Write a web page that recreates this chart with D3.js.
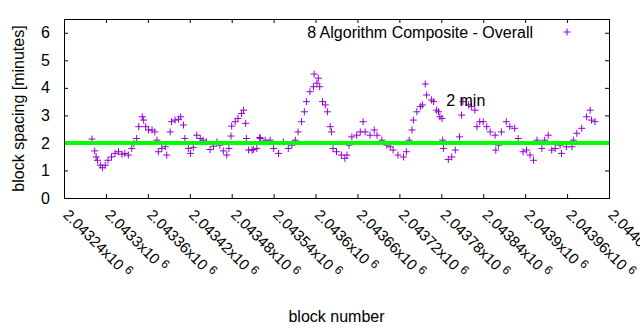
<!DOCTYPE html>
<html>
<head>
<meta charset="utf-8">
<script src="https://cdn.jsdelivr.net/npm/d3@7"></script>
<style>
body { margin: 0; background: #fff; }
text { font-family: "Liberation Sans", Arial, sans-serif; fill: #000; }
</style>
</head>
<body>
<div id="chart"></div>
<script>
// Data
var blocks = [2043280, 2043284, 2043286, 2043288, 2043292, 2043295, 2043299, 2043303, 2043308, 2043313,
  2043318, 2043323, 2043327, 2043332, 2043337, 2043340, 2043344, 2043347, 2043352, 2043354,
  2043357, 2043361, 2043366, 2043370, 2043373, 2043375, 2043380, 2043385, 2043387, 2043392,
  2043394, 2043399, 2043404, 2043407, 2043411, 2043413, 2043418, 2043421, 2043425, 2043430,
  2043435, 2043439, 2043444, 2043449, 2043454, 2043459, 2043463, 2043468, 2043473, 2043476,
  2043479, 2043480, 2043485, 2043489, 2043494, 2043497, 2043500, 2043501, 2043504, 2043509,
  2043511, 2043516, 2043520, 2043521, 2043528, 2043535, 2043540, 2043547, 2043554, 2043561,
  2043566, 2043571, 2043575, 2043580, 2043584, 2043587, 2043592, 2043597, 2043598, 2043602,
  2043604, 2043606, 2043610, 2043614, 2043617, 2043621, 2043623, 2043625, 2043630, 2043637,
  2043642, 2043645, 2043648, 2043652, 2043659, 2043664, 2043668, 2043671, 2043678, 2043684,
  2043688, 2043695, 2043702, 2043707, 2043711, 2043718, 2043726, 2043730, 2043734, 2043738,
  2043740, 2043745, 2043750, 2043753, 2043757, 2043759, 2043766, 2043769, 2043773, 2043776,
  2043778, 2043781, 2043782, 2043783, 2043790, 2043795, 2043800, 2043806, 2043809, 2043811,
  2043819, 2043823, 2043828, 2043831, 2043835, 2043840, 2043845, 2043850, 2043857, 2043858,
  2043862, 2043866, 2043873, 2043878, 2043885, 2043890, 2043897, 2043902, 2043907, 2043912,
  2043917, 2043924, 2043928, 2043933, 2043938, 2043943, 2043950, 2043952, 2043959, 2043967,
  2043969, 2043974, 2043981, 2043988, 2043993, 2043995, 2044000];
var spacing = [2.14, 1.71, 1.49, 1.37, 1.19, 1.10, 1.19, 1.37, 1.49, 1.62,
  1.68, 1.59, 1.62, 1.56, 1.80, 1.98, 2.16, 2.59, 2.95, 2.83,
  2.59, 2.47, 2.47, 2.40, 2.10, 1.68, 1.80, 1.86, 1.56, 2.40,
  2.77, 2.83, 2.86, 2.95, 2.65, 2.16, 1.80, 1.62, 1.84, 2.28,
  2.16, 2.10, 2.04, 1.76, 1.88, 2.04, 1.92, 1.71, 1.56, 1.80,
  2.25, 2.61, 2.77, 2.89, 3.07, 3.19, 2.71, 2.16, 1.74, 1.74,
  1.76, 1.80, 2.20, 2.16, 2.10, 2.10, 1.80, 1.62, 2.04, 1.80,
  1.92, 2.10, 2.40, 2.77, 3.13, 3.50, 3.86, 4.04, 4.50, 4.17,
  4.35, 4.04, 3.50, 3.38, 3.13, 2.59, 2.40, 1.80, 1.68, 1.56,
  1.44, 1.56, 1.92, 2.22, 2.28, 2.40, 2.77, 2.40, 2.28, 2.47,
  2.28, 2.10, 1.92, 1.86, 1.74, 1.56, 1.49, 1.68, 2.10, 2.47,
  2.83, 3.13, 3.32, 3.38, 4.14, 3.74, 3.56, 3.50, 3.19, 3.13,
  2.95, 2.89, 2.10, 1.80, 1.40, 1.49, 1.74, 2.22, 3.01, 3.50,
  3.38, 3.32, 3.19, 2.59, 2.77, 2.77, 2.59, 2.40, 2.28, 1.74,
  1.92, 2.40, 2.77, 2.59, 2.53, 2.16, 1.68, 1.74, 1.56, 1.37,
  2.10, 1.80, 2.10, 2.28, 1.74, 1.80, 1.92, 1.62, 1.86, 1.86,
  2.10, 2.35, 2.53, 2.95, 3.19, 2.83, 2.77];
var xTicks = d3.range(2043240, 2044021, 60);
var yTicks = [0, 1, 2, 3, 4, 5, 6];
var refValue = 2;
var seriesName = "8 Algorithm Composite - Overall";
var refLabel = "2 min";

var svgWidth = 640;
var svgHeight = 330;
var margin = { top: 19, right: 31, bottom: 132, left: 64 };
var width = svgWidth - margin.left - margin.right;
var height = svgHeight - margin.top - margin.bottom;
var purple = "#9400d3";

var svg = d3.select("#chart")
  .append("svg")
  .attr("width", svgWidth)
  .attr("height", svgHeight)
  .style("display", "block");

svg.append("rect").attr("width", svgWidth).attr("height", svgHeight).attr("fill", "#fff");

var chart = svg.append("g")
  .attr("transform", `translate(${margin.left}, ${margin.top})`);

var x = d3.scaleLinear().domain([2043240, 2044020]).range([0, width]);
var y = d3.scaleLinear().domain([0, 6.5]).range([height, 0]);

// inward ticks on all four sides
var tick = 4;
chart.append("g").attr("transform", `translate(0, ${height})`)
  .call(d3.axisBottom(x).tickValues(xTicks).tickSize(-tick).tickFormat(""));
chart.append("g")
  .call(d3.axisTop(x).tickValues(xTicks).tickSize(-tick).tickFormat(""));
chart.append("g")
  .call(d3.axisLeft(y).tickValues(yTicks).tickSize(-tick).tickFormat(""));
chart.append("g").attr("transform", `translate(${width}, 0)`)
  .call(d3.axisRight(y).tickValues(yTicks).tickSize(-tick).tickFormat(""));
chart.selectAll(".domain").remove();
chart.selectAll(".tick line").attr("stroke", "#000");

// y tick labels
chart.selectAll(".ylab").data(yTicks).enter().append("text")
  .attr("x", -14)
  .attr("y", d => y(d))
  .attr("dy", "0.35em")
  .attr("text-anchor", "end")
  .attr("font-size", "16px")
  .text(d => d);

// x tick labels, rotated
var xl = chart.selectAll(".xlab").data(xTicks).enter().append("text")
  .attr("transform", d => `translate(${x(d) + 2}, ${height + 14}) rotate(45)`)
  .attr("dy", "0.35em")
  .attr("font-size", "15px");
xl.append("tspan").text(d => String(+(d / 1e6).toFixed(5)) + "x10");
xl.append("tspan").attr("dx", 4).attr("dy", -5).attr("font-size", "12px").text("6");

// points
var pts = blocks.map((b, i) => [x(b), y(spacing[i])]);
chart.append("g").selectAll("path").data(pts).enter().append("path")
  .attr("d", d => `M${d[0] - 3.5},${d[1]}h7M${d[0]},${d[1] - 3.5}v7`)
  .attr("stroke", purple)
  .attr("stroke-width", 1)
  .attr("fill", "none");

// 2 minute line
chart.append("line")
  .attr("x1", 0).attr("x2", width)
  .attr("y1", y(refValue)).attr("y2", y(refValue))
  .attr("stroke", "#00ff00")
  .attr("stroke-width", 4);

chart.append("text")
  .attr("x", x(2043787))
  .attr("y", y(3.53))
  .attr("dy", "0.35em")
  .attr("font-size", "16px")
  .text(refLabel);

// border
chart.append("rect")
  .attr("width", width).attr("height", height)
  .attr("fill", "none").attr("stroke", "#000").attr("stroke-width", 1)
  .attr("shape-rendering", "crispEdges");

// legend
chart.append("text")
  .attr("x", 533 - margin.left)
  .attr("y", 32 - margin.top)
  .attr("dy", "0.35em")
  .attr("text-anchor", "end")
  .attr("font-size", "16px")
  .text(seriesName);
chart.append("path")
  .attr("d", `M${567 - margin.left - 3.5},${32 - margin.top}h7M${567 - margin.left},${32 - margin.top - 3.5}v7`)
  .attr("stroke", purple).attr("fill", "none");

// axis titles
svg.append("text")
  .attr("transform", `translate(18, ${margin.top + height / 2}) rotate(-90)`)
  .attr("dy", "0.35em")
  .attr("text-anchor", "middle")
  .attr("font-size", "16px")
  .text("block spacing [minutes]");

svg.append("text")
  .attr("x", margin.left + width / 2)
  .attr("y", 316)
  .attr("dy", "0.35em")
  .attr("text-anchor", "middle")
  .attr("font-size", "16px")
  .text("block number");
</script>
</body>
</html>
